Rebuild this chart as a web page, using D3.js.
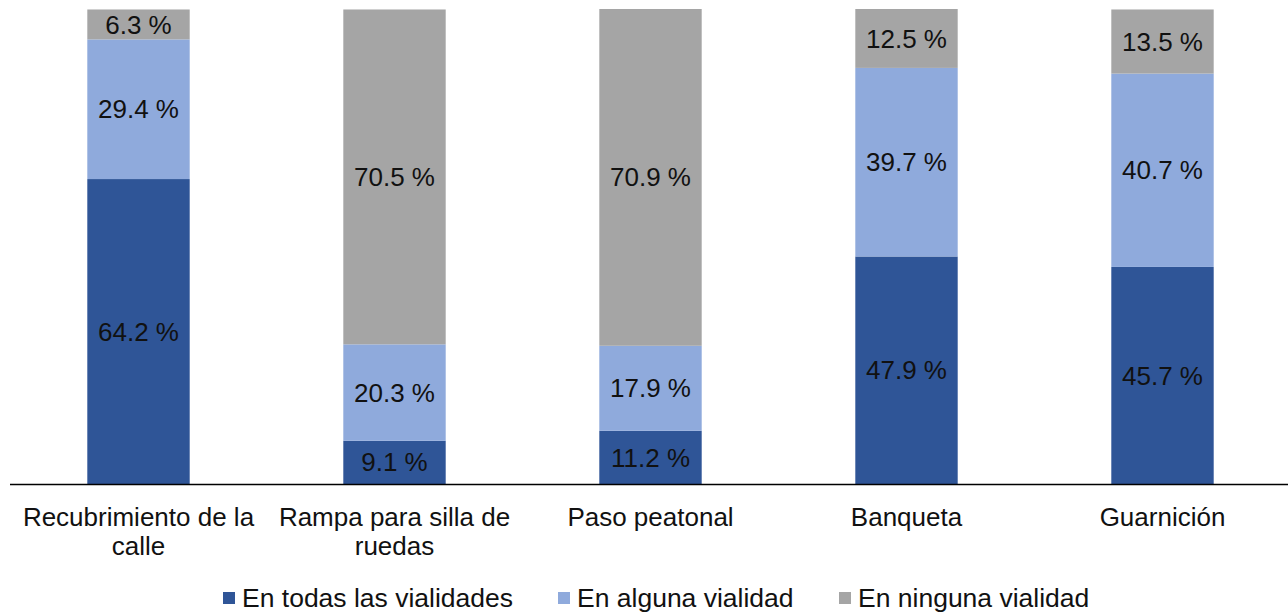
<!DOCTYPE html>
<html lang="es">
<head>
<meta charset="utf-8">
<title>Infraestructura vial</title>
<script src="https://d3js.org/d3.v7.min.js"></script>
<style>
  body { margin: 0; background: #fff; }
  svg { display: block; font-family: "Liberation Sans", Arial, sans-serif; }
</style>
</head>
<body>
<script>
// data
var categories = [["Recubrimiento de la", "calle"], ["Rampa para silla de", "ruedas"], ["Paso peatonal"], ["Banqueta"], ["Guarnición"]];
var series = ["En todas las vialidades", "En alguna vialidad", "En ninguna vialidad"];
var todas = [64.2, 9.1, 11.2, 47.9, 45.7];
var alguna = [29.4, 20.3, 17.9, 39.7, 40.7];
var ninguna = [6.3, 70.5, 70.9, 12.5, 13.5];
var colors = ["#2F5597", "#8FAADC", "#A5A5A5"];

var width = 1288, height = 612;
var svg = d3.select("body").append("svg")
    .attr("width", width)
    .attr("height", height);

var rows = categories.map(function (c, i) {
    return { key: i, todas: todas[i], alguna: alguna[i], ninguna: ninguna[i] };
});

var x = d3.scaleBand()
    .domain(d3.range(categories.length))
    .range([10.5, 1290.5])
    .paddingInner(0.6)
    .paddingOuter(0.3);

var y = d3.scaleLinear().domain([0, 100]).range([484, 9]);

var stack = d3.stack().keys(["todas", "alguna", "ninguna"]);
var layers = stack(rows);

var fs = 26;
var g = svg.append("g");
layers.forEach(function (layer, li) {
    var grp = g.append("g").attr("fill", colors[li]);
    grp.selectAll("rect")
        .data(layer)
        .enter().append("rect")
        .attr("x", function (d) { return x(d.data.key); })
        .attr("width", x.bandwidth())
        .attr("y", function (d) { return y(Math.min(d[1], 100)); })
        .attr("height", function (d) { return y(d[0]) - y(Math.min(d[1], 100)); });
    g.selectAll(null)
        .data(layer)
        .enter().append("text")
        .attr("x", function (d) { return x(d.data.key) + x.bandwidth() / 2; })
        .attr("y", function (d) { return (y(d[0]) + y(Math.min(d[1], 100))) / 2; })
        .attr("dy", "0.35em")
        .attr("text-anchor", "middle")
        .attr("font-size", fs)
        .attr("fill", "#111")
        .text(function (d) { return (d[1] - d[0]).toFixed(1) + " %"; });
});

// baseline
svg.append("line")
    .attr("x1", 10).attr("x2", 1290)
    .attr("y1", 484.5).attr("y2", 484.5)
    .attr("stroke", "#000").attr("stroke-width", 1.3);

// category labels
categories.forEach(function (lines, i) {
    var t = svg.append("text")
        .attr("text-anchor", "middle")
        .attr("font-size", fs)
        .attr("fill", "#111");
    lines.forEach(function (ln, j) {
        t.append("tspan")
            .attr("x", x(i) + x.bandwidth() / 2)
            .attr("y", 526 + j * 29)
            .text(ln);
    });
});

// legend
var legX = [223, 558, 839];
var leg = svg.append("g");
series.forEach(function (s, i) {
    leg.append("rect")
        .attr("x", legX[i]).attr("y", 592)
        .attr("width", 12).attr("height", 12)
        .attr("fill", colors[i]);
    leg.append("text")
        .attr("x", legX[i] + 19).attr("y", 607)
        .attr("font-size", 26.5)
        .attr("fill", "#111")
        .text(s);
});
</script>
</body>
</html>
